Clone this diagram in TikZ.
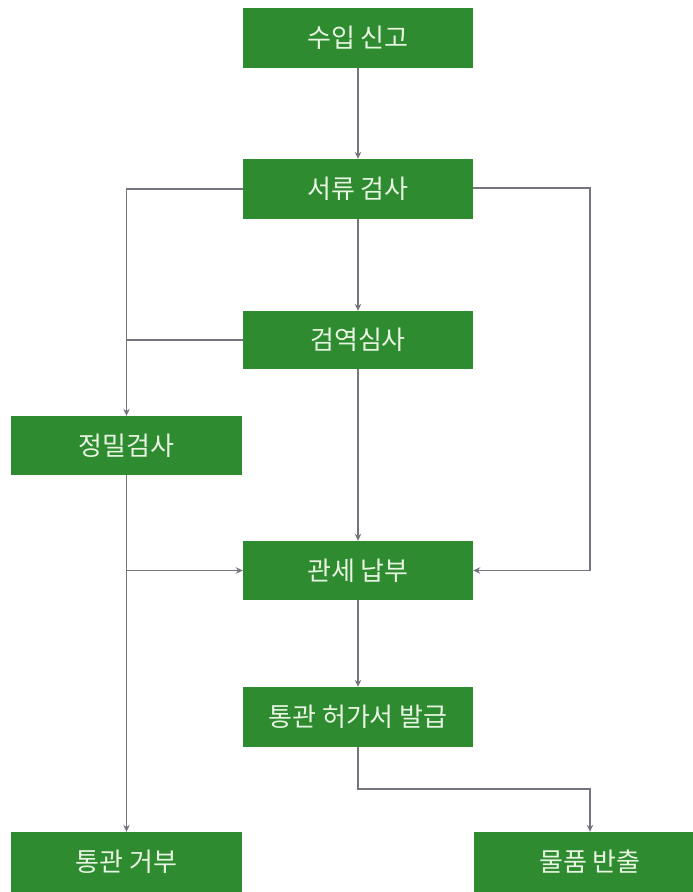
\documentclass[tikz,border=0pt]{standalone}
\usepackage{fontspec}
\newfontfamily\kr{Noto Sans CJK KR}
\usetikzlibrary{arrows.meta}

\definecolor{boxgreen}{RGB}{46,139,48}
\definecolor{boxtext}{RGB}{232,245,226}
\definecolor{linegray}{RGB}{118,116,126}

\tikzset{
  stepbox/.style={fill=boxgreen,text=boxtext,inner sep=0pt,
    minimum width=230pt,minimum height=60pt,
    font=\kr\fontsize{26}{30}\selectfont},
  link/.style={draw=linegray,line width=1.3pt},
  tip/.style={-{Stealth[length=7pt,width=6.5pt]}}
}

\begin{document}
\begin{tikzpicture}[x=1pt,y=-1pt]
  \useasboundingbox[fill=white] (0,0) rectangle (693,892);

  \node[stepbox] (ipgo)     at (358,38)    {수입 신고};
  \node[stepbox] (seoryu)   at (358,189)   {서류 검사};
  \node[stepbox,minimum height=58pt] (geomyeok) at (358,340) {검역심사};
  \node[stepbox,minimum width=231pt,minimum height=59pt] (jeongmil) at (126.5,445.5) {정밀검사};
  \node[stepbox,minimum height=59pt] (gwanse)   at (358,570.5) {관세 납부};
  \node[stepbox] (heoga)    at (358,717)   {통관 허가서 발급};
  \node[stepbox,minimum width=231pt] (geobu) at (126.5,862) {통관 거부};
  \node[stepbox,minimum width=232pt] (banchul) at (590,862) {물품 반출};

  \coordinate (rtop) at (590,188);
  \coordinate (rbot) at (590,789);
  \coordinate (ljoin) at (127,570.5);

  \path[link,tip]
    (ipgo)     edge (seoryu)
    (seoryu)   edge (geomyeok)
    (geomyeok) edge (gwanse)
    (gwanse)   edge (heoga)
    (jeongmil) edge (geobu);

  \draw[link,tip] (ljoin) -- (gwanse.west);
  \draw[link,tip] (seoryu.west) -| (jeongmil.north);
  \draw[link] (geomyeok.west) -- (geomyeok.west -| jeongmil.north);
  \draw[link,tip] (seoryu.east |- rtop) -- (rtop) |- (gwanse.east);
  \draw[link,tip] (heoga.south) |- (rbot) -- (rbot |- banchul.north);

\end{tikzpicture}
\end{document}
